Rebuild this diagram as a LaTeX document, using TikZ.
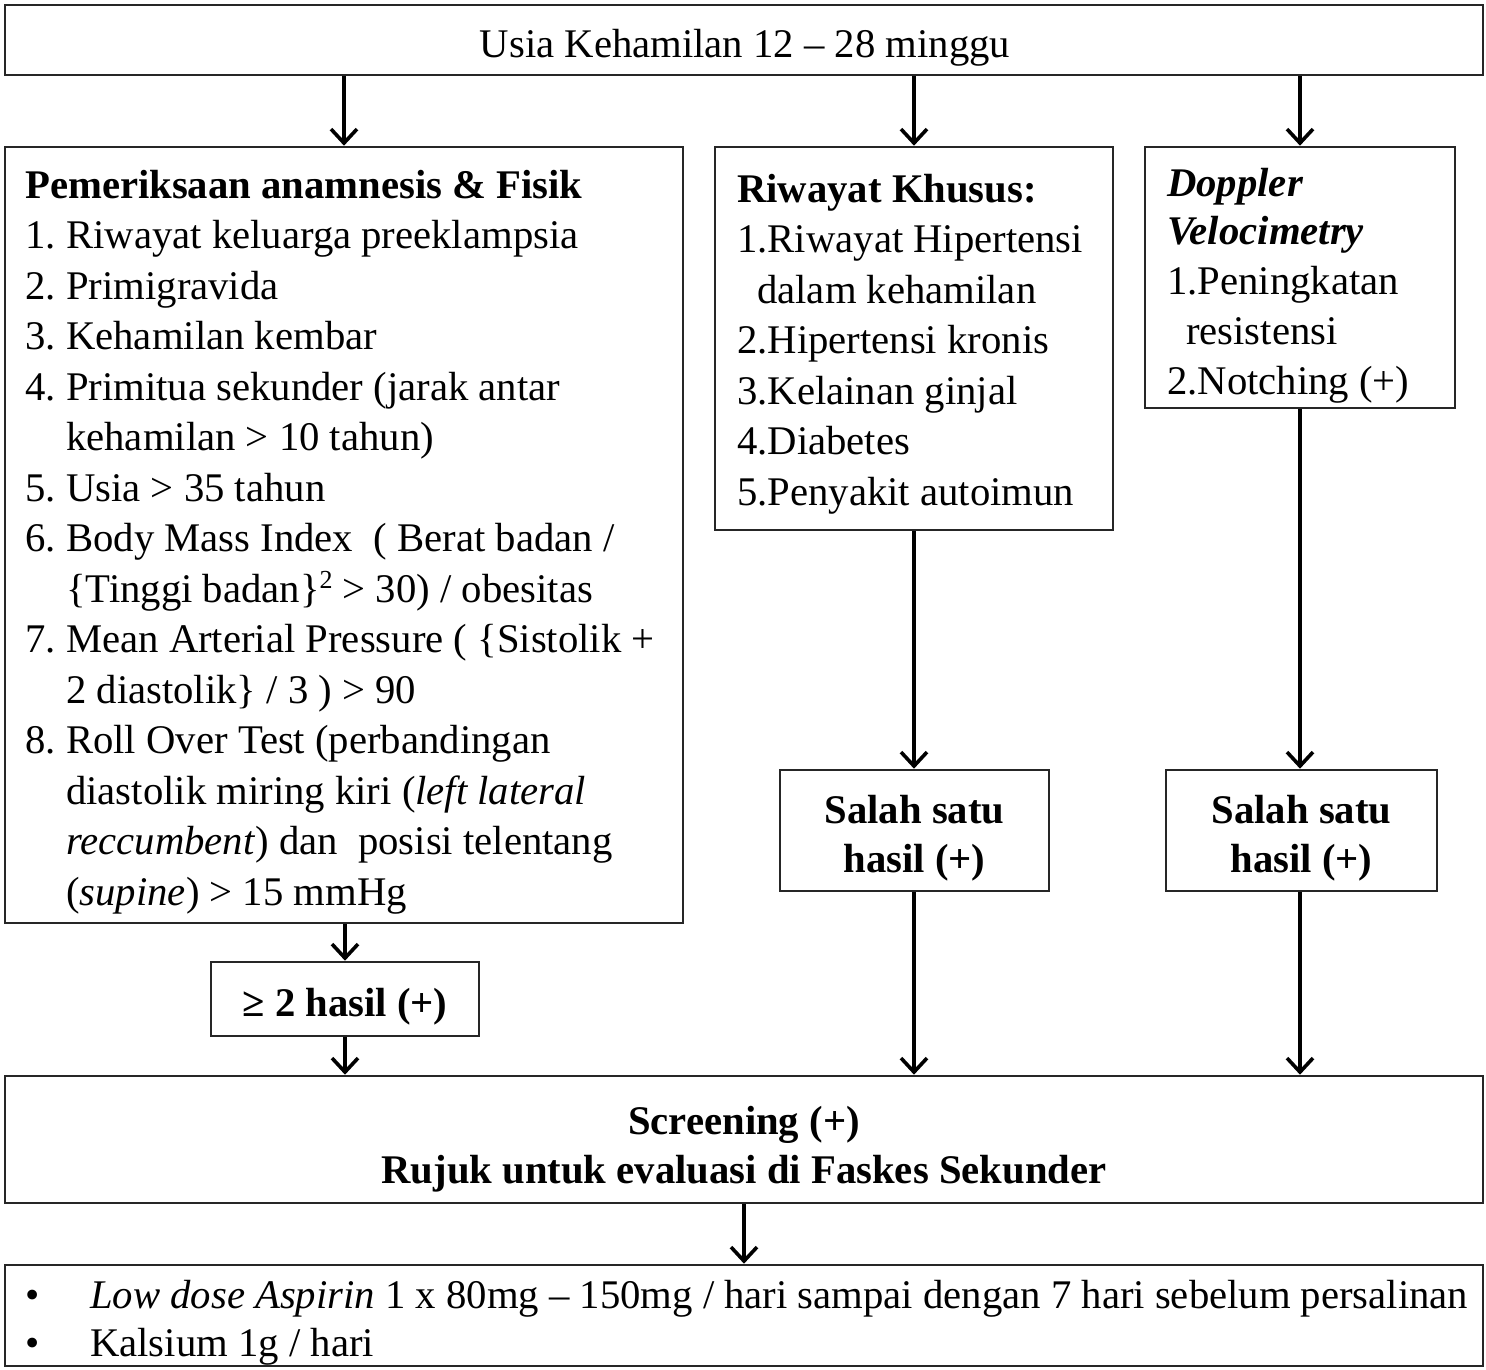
\documentclass[tikz,border=0pt]{standalone}
\usepackage{fontspec}
\setmainfont{Liberation Serif}
\usetikzlibrary{arrows.meta}
\begin{document}
\begin{tikzpicture}[x=1pt,y=-1pt,
  box/.style={draw=black!85,line width=2.6pt,inner sep=0pt,fill=white},
  txt/.style={anchor=base west,inner sep=0pt,font=\fontsize{40.7}{50}\selectfont},
  ctxt/.style={anchor=base,inner sep=0pt,font=\fontsize{40.7}{50}\selectfont},
  arr/.style={line width=3.6pt,-{Straight Barb[length=14pt,width=26pt,line width=3.6pt]}}]
\useasboundingbox[fill=white] (0,0) rectangle (1486,1369);
\newcommand{\num}[1]{\makebox[41pt][l]{#1}}
% boxes
\node[box,minimum width=1478pt,minimum height=70pt] (top) at (744,40) {};
\node[box,minimum width=678pt,minimum height=776pt] (lbox) at (344,535) {};
\node[box,minimum width=398pt,minimum height=383pt] (mbox) at (914,338.5) {};
\node[box,minimum width=310pt,minimum height=261pt] (rbox) at (1300,277.5) {};
\node[box,minimum width=269pt,minimum height=121pt] (ms) at (914.5,830.5) {};
\node[box,minimum width=271pt,minimum height=121pt] (rs) at (1301.5,830.5) {};
\node[box,minimum width=268pt,minimum height=74pt] (ge) at (345,999) {};
\node[box,minimum width=1478pt,minimum height=127pt] (scr) at (744,1139.5) {};
\node[box,minimum width=1478pt,minimum height=101pt] (bot) at (744,1315.5) {};
% top text
\node[ctxt] (t0) at (745,57) {Usia Kehamilan 12 – 28 minggu};
% left box text
\node[txt] (l0) at (25,198) {\textbf{Pemeriksaan anamnesis \& Fisik}};
\node[txt] (l1) at (25,248.5) {\num{1.}Riwayat keluarga preeklampsia};
\node[txt] (l2) at (25,299) {\num{2.}Primigravida};
\node[txt] (l3) at (25,349.5) {\num{3.}Kehamilan kembar};
\node[txt] (l4) at (25,400) {\num{4.}Primitua sekunder (jarak antar};
\node[txt] (l5) at (66,450.5) {kehamilan > 10 tahun)};
\node[txt] (l6) at (25,501) {\num{5.}Usia > 35 tahun};
\node[txt] (l7) at (25,551.5) {\num{6.}Body Mass Index\ \ ( Berat badan /};
\node[txt] (l8) at (66,602) {\{Tinggi badan\}\raisebox{14pt}{\fontsize{26}{26}\selectfont 2} > 30) / obesitas};
\node[txt] (l9) at (25,652.5) {\num{7.}Mean Arterial Pressure ( \{Sistolik +};
\node[txt] (l10) at (66,703) {2 diastolik\} / 3 ) > 90};
\node[txt] (l11) at (25,753.5) {\num{8.}Roll Over Test (perbandingan};
\node[txt] (l12) at (66,804) {diastolik miring kiri (\textit{left lateral}};
\node[txt] (l13) at (66,854.5) {\textit{reccumbent}) dan\ \ posisi telentang};
\node[txt] (l14) at (66,905) {(\textit{supine}) > 15 mmHg};
% middle box text
\node[txt] (m0) at (737,202) {\textbf{Riwayat Khusus:}};
\node[txt] (m1) at (737,252.5) {1.Riwayat Hipertensi};
\node[txt] (m2) at (757,303) {dalam kehamilan};
\node[txt] (m3) at (737,353.5) {2.Hipertensi kronis};
\node[txt] (m4) at (737,404) {3.Kelainan ginjal};
\node[txt] (m5) at (737,454.5) {4.Diabetes};
\node[txt] (m6) at (737,505) {5.Penyakit autoimun};
% right box text
\node[txt] (r0) at (1167,196) {\textbf{\textit{Doppler}}};
\node[txt] (r1) at (1167,244) {\textbf{\textit{Velocimetry}}};
\node[txt] (r2) at (1167,294) {1.Peningkatan};
\node[txt] (r3) at (1186,344) {resistensi};
\node[txt] (r4) at (1167,394) {2.Notching (+)};
% salah satu
\node[ctxt] (ms1) at (914.5,823) {\textbf{Salah satu}};
\node[ctxt] (ms2) at (914.5,872) {\textbf{hasil (+)}};
\node[ctxt] (rs1) at (1301.5,823) {\textbf{Salah satu}};
\node[ctxt] (rs2) at (1301.5,872) {\textbf{hasil (+)}};
% ge
\node[ctxt] (ge1) at (345,1016) {\textbf{≥ 2 hasil (+)}};
% screening
\node[ctxt] (s1) at (744,1134) {\textbf{Screening (+)}};
\node[ctxt] (s2) at (744,1183) {\textbf{Rujuk untuk evaluasi di Faskes Sekunder}};
% bottom
\node[txt] (b0) at (25,1308) {•};
\node[txt] (b1) at (90,1308) {\textit{Low dose Aspirin} 1 x 80mg – 150mg / hari sampai dengan 7 hari sebelum persalinan};
\node[txt] (b2) at (25,1356) {•};
\node[txt] (b3) at (90,1356) {Kalsium 1g / hari};
% arrows
\draw[arr] (lbox.north |- top.south) -- (lbox.north);
\draw[arr] (mbox.north |- top.south) -- (mbox.north);
\draw[arr] (rbox.north |- top.south) -- (rbox.north);
\draw[arr] (lbox.south -| ge.north) -- (ge.north);
\draw[arr] (ge.south) -- (ge.south |- scr.north);
\draw[arr] (mbox.south) -- (mbox.south |- ms.north);
\draw[arr] (rbox.south) -- (rbox.south |- rs.north);
\draw[arr] (ms.south -| mbox.south) -- (scr.north -| mbox.south);
\draw[arr] (rs.south -| rbox.south) -- (scr.north -| rbox.south);
\draw[arr] (scr.south) -- (bot.north);
\end{tikzpicture}
\end{document}
